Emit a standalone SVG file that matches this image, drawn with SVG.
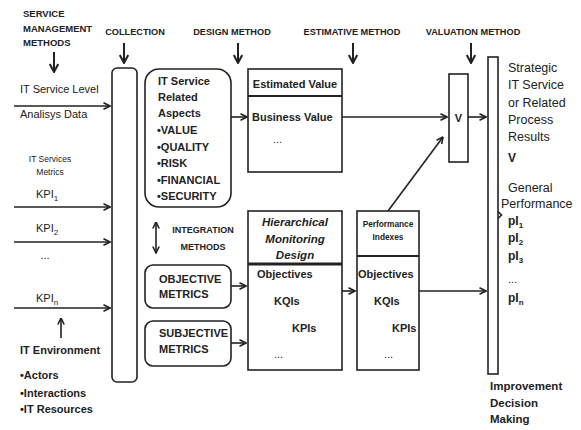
<svg xmlns="http://www.w3.org/2000/svg" width="581" height="430" viewBox="0 0 581 430">
<defs>
<marker id="ah" viewBox="0 0 8 8" refX="7.5" refY="4" markerWidth="8" markerHeight="8" markerUnits="userSpaceOnUse" orient="auto-start-reverse">
<path d="M1,0.8 L7.5,4 L1,7.2" fill="none" stroke="#222" stroke-width="1.6"/>
</marker>
<marker id="ahb" viewBox="0 0 10 10" refX="9" refY="5" markerWidth="10" markerHeight="10" markerUnits="userSpaceOnUse" orient="auto-start-reverse">
<path d="M1,0.8 L9,5 L1,9.2" fill="none" stroke="#222" stroke-width="2"/>
</marker>
</defs>
<style>
text{font-family:"Liberation Sans",Arial,sans-serif;fill:#222}
.b{font-weight:bold}
.h{font-weight:bold;font-size:9.2px}
.r{font-size:11px}
.t{font-weight:bold;font-size:11px}
.s{font-size:12.5px}
.box{fill:#fff;stroke:#222;stroke-width:1.6}
.ln{fill:none;stroke:#222;stroke-width:1.6}
.dn{fill:none;stroke:#222;stroke-width:2;marker-end:url(#ahb)}
.ar{fill:none;stroke:#222;stroke-width:1.6;marker-end:url(#ah)}
</style>

<g id="headings">
<text class="h" x="23" y="17" style="font-size:9.5px">SERVICE</text>
<text class="h" x="23" y="32" style="font-size:9.5px">MANAGEMENT</text>
<text class="h" x="23" y="46" style="font-size:9.5px">METHODS</text>
<text class="h" x="135" y="35" text-anchor="middle">COLLECTION</text>
<text class="h" x="232" y="35" text-anchor="middle">DESIGN METHOD</text>
<text class="h" x="352" y="35" text-anchor="middle">ESTIMATIVE METHOD</text>
<text class="h" x="473" y="35" text-anchor="middle">VALUATION METHOD</text>
</g>

<g id="left-inputs">
<text class="r" x="20" y="93">IT Service Level</text>
<text class="r" x="20" y="118">Analisys Data</text>
<text x="50" y="162" text-anchor="middle" style="font-size:8.5px">IT Services</text>
<text x="50" y="175" text-anchor="middle" style="font-size:8.5px">Metrics</text>
<text class="r" x="36" y="198">KPI<tspan dy="3" style="font-size:8px">1</tspan></text>
<text class="r" x="36" y="232">KPI<tspan dy="3" style="font-size:8px">2</tspan></text>
<text class="r" x="45" y="259" text-anchor="middle">...</text>
<text class="r" x="36" y="302">KPI<tspan dy="3" style="font-size:8px">n</tspan></text>
<text class="t" x="20" y="354">IT Environment</text>
<text class="t" x="20" y="379">•Actors</text>
<text class="t" x="20" y="397">•Interactions</text>
<text class="t" x="20" y="413">•IT Resources</text>
</g>

<g id="collection">
<rect class="box" x="112" y="68" width="25" height="314" rx="5"/>
</g>

<g id="aspects">
<rect class="box" x="145" y="69" width="86" height="138" rx="14"/>
<text class="t" x="158" y="85">IT Service</text>
<text class="t" x="158" y="101">Related</text>
<text class="t" x="158" y="117">Aspects</text>
<text class="t" x="157" y="134">•VALUE</text>
<text class="t" x="157" y="151">•QUALITY</text>
<text class="t" x="157" y="167">•RISK</text>
<text class="t" x="157" y="184">•FINANCIAL</text>
<text class="t" x="157" y="200">•SECURITY</text>
</g>

<g id="integration">
<text class="b" x="203" y="233" text-anchor="middle" style="font-size:9px">INTEGRATION</text>
<text class="b" x="203" y="250" text-anchor="middle" style="font-size:9px">METHODS</text>
</g>

<g id="objective">
<rect class="box" x="145" y="265" width="86" height="43" rx="8"/>
<text class="t" x="159" y="283">OBJECTIVE</text>
<text class="t" x="159" y="298">METRICS</text>
</g>

<g id="subjective">
<rect class="box" x="145" y="321" width="86" height="45" rx="8"/>
<text class="t" x="159" y="337">SUBJECTIVE</text>
<text class="t" x="159" y="353">METRICS</text>
</g>

<g id="estimated">
<rect class="box" x="248" y="69" width="94" height="103"/>
<line x1="248" y1="96" x2="342" y2="96" stroke="#222" stroke-width="2"/>
<text class="t" x="295" y="88" text-anchor="middle">Estimated Value</text>
<text class="t" x="252" y="121">Business Value</text>
<text class="r" x="273" y="143">...</text>
</g>

<g id="hierarchical">
<rect class="box" x="248" y="211" width="94" height="159"/>
<line x1="248" y1="264" x2="342" y2="264" stroke="#222" stroke-width="3"/>
<text class="b" x="295" y="226" text-anchor="middle" style="font-size:11.5px;font-style:italic">Hierarchical</text>
<text class="b" x="295" y="243" text-anchor="middle" style="font-size:11.5px;font-style:italic">Monitoring</text>
<text class="b" x="295" y="259" text-anchor="middle" style="font-size:11.5px;font-style:italic">Design</text>
<text class="t" x="257" y="278">Objectives</text>
<text class="t" x="274" y="305">KQIs</text>
<text class="t" x="292" y="332">KPIs</text>
<text class="r" x="274" y="358">...</text>
</g>

<g id="performance">
<rect class="box" x="357" y="211" width="62" height="159"/>
<line x1="357" y1="256" x2="419" y2="256" stroke="#222" stroke-width="1.8"/>
<text class="b" x="388" y="227" text-anchor="middle" style="font-size:8.3px">Performance</text>
<text class="b" x="388" y="240" text-anchor="middle" style="font-size:8.3px">Indexes</text>
<text class="t" x="358" y="278">Objectives</text>
<text class="t" x="374" y="305">KQIs</text>
<text class="t" x="392" y="332">KPIs</text>
<text class="r" x="384" y="358">...</text>
</g>

<g id="v-box">
<rect class="box" x="449" y="74" width="19" height="88"/>
<text class="t" x="458.5" y="122" text-anchor="middle">V</text>
</g>

<g id="results-bar">
<rect class="box" x="488" y="57" width="10" height="317"/>
<text class="s" x="508" y="72">Strategic</text>
<text class="s" x="508" y="89">IT Service</text>
<text class="s" x="508" y="107">or Related</text>
<text class="s" x="508" y="124">Process</text>
<text class="s" x="508" y="141">Results</text>
<text class="t" x="508" y="162" style="font-size:12px">V</text>
<text class="s" x="508" y="192">General</text>
<text class="s" x="501" y="208">Performance</text>
<text class="t" x="508" y="225" style="font-size:12px">pI<tspan dy="3" style="font-size:8px">1</tspan></text>
<text class="t" x="508" y="242" style="font-size:12px">pI<tspan dy="3" style="font-size:8px">2</tspan></text>
<text class="t" x="508" y="260" style="font-size:12px">pI<tspan dy="3" style="font-size:8px">3</tspan></text>
<text class="r" x="508" y="283">...</text>
<text class="t" x="508" y="302" style="font-size:12px">pI<tspan dy="3" style="font-size:8px">n</tspan></text>
<polyline class="ln" points="498,211.5 501.5,215 498,218.5"/>
</g>

<g id="improvement">
<text class="t" x="490" y="390" style="font-size:11.5px">Improvement</text>
<text class="t" x="490" y="407" style="font-size:11.5px">Decision</text>
<text class="t" x="490" y="423" style="font-size:11.5px">Making</text>
</g>

<g id="connectors">
<line class="dn" x1="54" y1="52" x2="54" y2="72"/>
<line class="dn" x1="124" y1="43" x2="124" y2="63"/>
<line class="dn" x1="238" y1="43" x2="238" y2="63"/>
<line class="dn" x1="353" y1="43" x2="353" y2="63"/>
<line class="dn" x1="471" y1="43" x2="471" y2="63"/>
<line class="ar" x1="14" y1="106" x2="110" y2="106"/>
<line class="ar" x1="14" y1="207" x2="110" y2="207"/>
<line class="ar" x1="14" y1="242" x2="110" y2="242"/>
<line class="ar" x1="14" y1="308" x2="110" y2="308"/>
<line class="ar" x1="61" y1="338" x2="61" y2="318"/>
<line class="ar" x1="156" y1="222" x2="156" y2="253" style="marker-start:url(#ah)"/>
<line class="ar" x1="231" y1="117" x2="247" y2="117"/>
<line class="ar" x1="342" y1="117" x2="447" y2="117"/>
<line class="ar" x1="468" y1="117" x2="486" y2="117"/>
<line class="ar" x1="231" y1="286" x2="246" y2="286"/>
<line class="ar" x1="231" y1="343" x2="246" y2="343"/>
<line class="ar" x1="342" y1="291" x2="355" y2="291"/>
<line class="ar" x1="419" y1="291" x2="486" y2="291"/>
<line class="ar" x1="388" y1="211" x2="443" y2="137"/>
</g>
</svg>
